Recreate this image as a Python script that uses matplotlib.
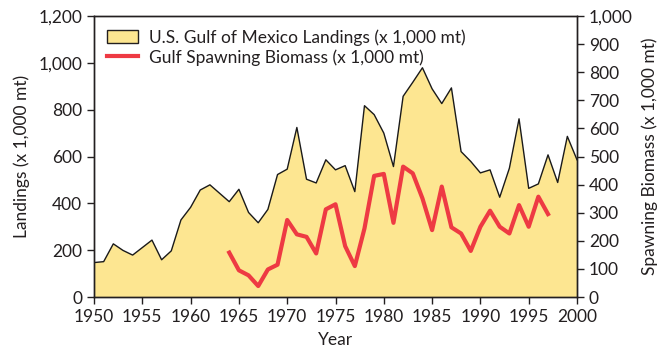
import matplotlib
matplotlib.use("Agg")
import matplotlib.pyplot as plt
from matplotlib.patches import Patch
from matplotlib.lines import Line2D

plt.rcParams['font.family'] = ['Lato', 'DejaVu Sans']

years = list(range(1950, 2001))
landings = [147, 151, 227, 199, 179, 211, 243, 159, 197, 329,
            383, 457, 479, 443, 407, 460, 361, 317, 374, 523,
            546, 724, 503, 487, 586, 543, 561, 450, 817, 779,
            700, 557, 857, 917, 979, 889, 826, 893, 621, 579,
            530, 543, 426, 550, 761, 464, 483, 607, 489, 686,
            586]

bio_years = list(range(1964, 1998))
biomass = [158, 95, 77, 39, 98, 115, 274, 223, 214, 155,
           312, 330, 181, 110, 244, 431, 438, 264, 464, 440,
           351, 238, 393, 248, 226, 164, 250, 307, 250, 226,
           327, 250, 357, 295]

xticks = [1950, 1955, 1960, 1965, 1970, 1975, 1980, 1985, 1990, 1995, 2000]
lticks = [0, 200, 400, 600, 800, 1000, 1200]
rticks = list(range(0, 1001, 100))

txt = '#231F20'
fill_c = '#FDE691'
red = '#EE3A43'

fig = plt.figure(figsize=(6.68, 3.56), dpi=100)
ax = fig.add_axes([94/668, 1-297/356, (577-94)/668, (297-16)/356])
ax.fill_between(years, landings, 0, facecolor=fill_c, edgecolor='none', zorder=1)
ax.plot(years, landings, color='#1a1a1a', lw=1.0, zorder=2)
ax.set_xlim(1950, 2000)
ax.set_ylim(0, 1200)
ax.set_xticks(xticks)
ax.set_yticks(lticks)
ax.set_yticklabels([f"{v:,}" for v in lticks])
ax.tick_params(direction='out', length=5, width=1, colors=txt, labelsize=12.5, top=False)
ax.set_xlabel('Year', fontsize=12.5, color=txt, labelpad=5)
ax.set_ylabel('Landings (x 1,000 mt)', fontsize=12.5, color=txt, labelpad=6)
for s in ax.spines.values():
    s.set_color('#231F20')
    s.set_linewidth(1.0)

ax2 = ax.twinx()
ax2.plot(bio_years, biomass, color=red, lw=3.0, zorder=3)
ax2.set_ylim(0, 1000)
ax2.set_yticks(rticks)
ax2.set_yticklabels([f"{v:,}" for v in rticks])
ax2.tick_params(direction='out', length=5, width=1, colors=txt, labelsize=12.5)
ax2.set_ylabel('Spawning Biomass (x 1,000 mt)', fontsize=12.5, color=txt, labelpad=6)
for s in ax2.spines.values():
    s.set_color('#231F20')
    s.set_linewidth(1.0)

handles = [Patch(facecolor=fill_c, edgecolor='#231F20', linewidth=1.0),
           Line2D([0], [0], color=red, lw=3.0)]
labels = ['U.S. Gulf of Mexico Landings (x 1,000 mt)',
          'Gulf Spawning Biomass (x 1,000 mt)']
leg = ax2.legend(handles, labels, loc='upper left', frameon=False, fontsize=12.5,
                 handlelength=1.8, handleheight=0.8, borderaxespad=0.35,
                 labelspacing=0.2, handletextpad=0.6)
for t in leg.get_texts():
    t.set_color(txt)

fig.savefig('out.png', dpi=100)
